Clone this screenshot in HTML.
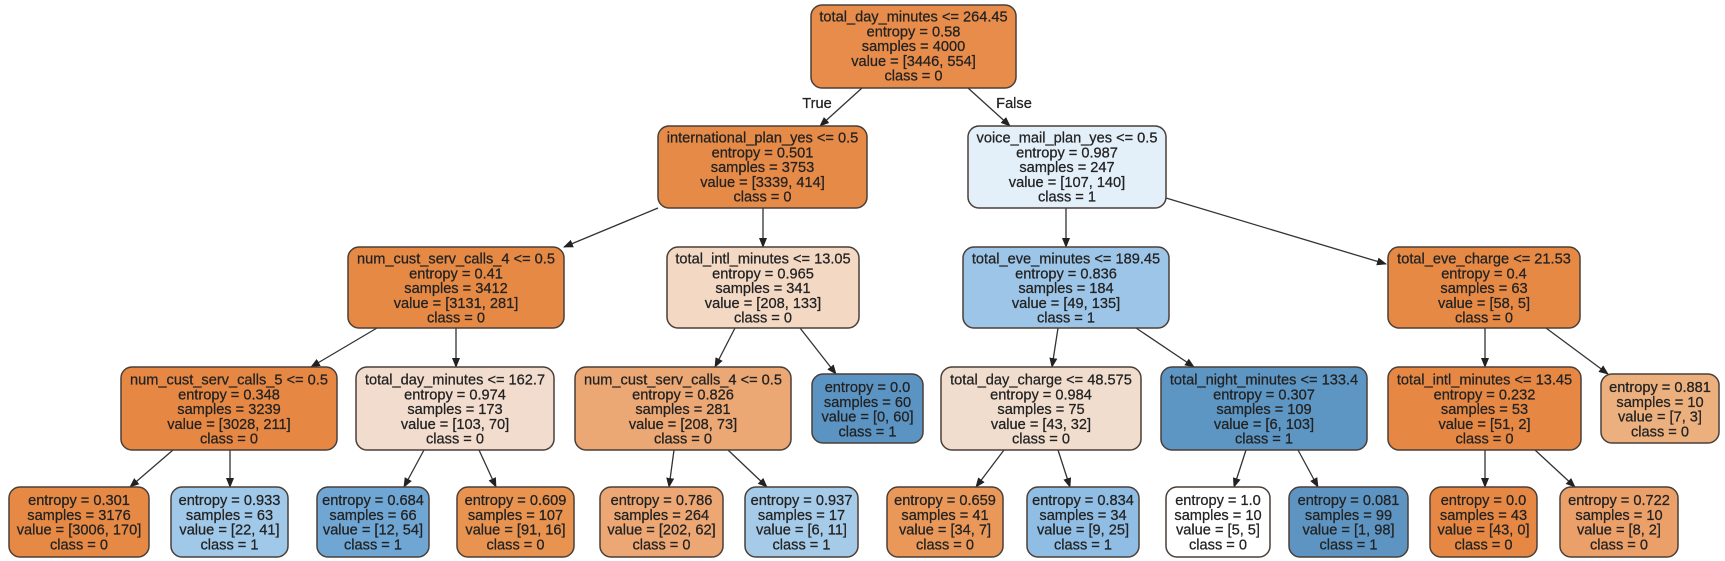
<!DOCTYPE html>
<html><head><meta charset="utf-8"><style>
html,body{margin:0;padding:0;background:#fff;}
svg{display:block;}
text{font-family:"Liberation Sans",sans-serif;font-size:14.6px;fill:#222;stroke:#222;stroke-width:0.25;text-anchor:middle;}
rect{stroke:#4a3f38;stroke-width:1.5;}
line{stroke:#333;stroke-width:1.3;}
</style></head><body>
<svg width="1725" height="561" viewBox="0 0 1725 561" xmlns="http://www.w3.org/2000/svg">
<defs><marker id="a" markerWidth="10" markerHeight="10" refX="9" refY="5" orient="auto" markerUnits="userSpaceOnUse"><path d="M0,1 L10,5 L0,9 z" fill="#222"/></marker></defs>
<g marker-end="url(#a)">
<line x1="862" y1="88" x2="820" y2="126"/>
<line x1="968" y1="88" x2="1010" y2="126"/>
<line x1="658" y1="208" x2="564" y2="247"/>
<line x1="763" y1="208" x2="763" y2="247"/>
<line x1="1066" y1="208" x2="1066" y2="247"/>
<line x1="1166" y1="198" x2="1386" y2="264"/>
<line x1="377" y1="328" x2="311" y2="367"/>
<line x1="456" y1="328" x2="456" y2="367"/>
<line x1="735" y1="328" x2="715" y2="367"/>
<line x1="800" y1="328" x2="836" y2="374"/>
<line x1="1058" y1="328" x2="1052" y2="367"/>
<line x1="1136" y1="328" x2="1194" y2="367"/>
<line x1="1485" y1="328" x2="1485" y2="367"/>
<line x1="1546" y1="328" x2="1608" y2="374"/>
<line x1="173" y1="450" x2="130" y2="487"/>
<line x1="230" y1="450" x2="230" y2="487"/>
<line x1="424" y1="450" x2="404" y2="487"/>
<line x1="479" y1="450" x2="496" y2="487"/>
<line x1="674" y1="450" x2="669" y2="487"/>
<line x1="728" y1="450" x2="767" y2="487"/>
<line x1="1004" y1="450" x2="976" y2="487"/>
<line x1="1058" y1="450" x2="1070" y2="487"/>
<line x1="1246" y1="450" x2="1234" y2="487"/>
<line x1="1298" y1="450" x2="1318" y2="487"/>
<line x1="1485" y1="450" x2="1485" y2="487"/>
<line x1="1535" y1="450" x2="1575" y2="487"/>
</g>
<text x="817" y="108">True</text>
<text x="1014" y="108">False</text>

<rect x="811" y="5" width="205" height="83" rx="11" fill="#e78c4a"/>
<text x="913.5" y="21.5">total_day_minutes &lt;= 264.45</text><text x="913.5" y="36.3">entropy = 0.58</text><text x="913.5" y="51.1">samples = 4000</text><text x="913.5" y="65.9">value = [3446, 554]</text><text x="913.5" y="80.7">class = 0</text>

<rect x="658" y="126" width="209" height="82" rx="11" fill="#e68a47"/>
<text x="762.5" y="142.5">international_plan_yes &lt;= 0.5</text><text x="762.5" y="157.3">entropy = 0.501</text><text x="762.5" y="172.1">samples = 3753</text><text x="762.5" y="186.9">value = [3339, 414]</text><text x="762.5" y="201.7">class = 0</text>
<rect x="968" y="126" width="198" height="82" rx="11" fill="#e3eff9"/>
<text x="1067" y="142.5">voice_mail_plan_yes &lt;= 0.5</text><text x="1067" y="157.3">entropy = 0.987</text><text x="1067" y="172.1">samples = 247</text><text x="1067" y="186.9">value = [107, 140]</text><text x="1067" y="201.7">class = 1</text>

<rect x="348" y="247" width="216" height="81" rx="11" fill="#e68945"/>
<text x="456" y="263.5">num_cust_serv_calls_4 &lt;= 0.5</text><text x="456" y="278.3">entropy = 0.41</text><text x="456" y="293.1">samples = 3412</text><text x="456" y="307.9">value = [3131, 281]</text><text x="456" y="322.7">class = 0</text>
<rect x="667" y="247" width="192" height="81" rx="11" fill="#f3d8c4"/>
<text x="763" y="263.5">total_intl_minutes &lt;= 13.05</text><text x="763" y="278.3">entropy = 0.965</text><text x="763" y="293.1">samples = 341</text><text x="763" y="307.9">value = [208, 133]</text><text x="763" y="322.7">class = 0</text>
<rect x="963" y="247" width="206" height="81" rx="11" fill="#9cc5e7"/>
<text x="1066" y="263.5">total_eve_minutes &lt;= 189.45</text><text x="1066" y="278.3">entropy = 0.836</text><text x="1066" y="293.1">samples = 184</text><text x="1066" y="307.9">value = [49, 135]</text><text x="1066" y="322.7">class = 1</text>
<rect x="1388" y="247" width="192" height="81" rx="11" fill="#e68945"/>
<text x="1484" y="263.5">total_eve_charge &lt;= 21.53</text><text x="1484" y="278.3">entropy = 0.4</text><text x="1484" y="293.1">samples = 63</text><text x="1484" y="307.9">value = [58, 5]</text><text x="1484" y="322.7">class = 0</text>

<rect x="121" y="367" width="216" height="83" rx="11" fill="#e68844"/>
<text x="229" y="384.5">num_cust_serv_calls_5 &lt;= 0.5</text><text x="229" y="399.3">entropy = 0.348</text><text x="229" y="414.1">samples = 3239</text><text x="229" y="428.9">value = [3028, 211]</text><text x="229" y="443.7">class = 0</text>
<rect x="356" y="367" width="198" height="83" rx="11" fill="#f1dccd"/>
<text x="455" y="384.5">total_day_minutes &lt;= 162.7</text><text x="455" y="399.3">entropy = 0.974</text><text x="455" y="414.1">samples = 173</text><text x="455" y="428.9">value = [103, 70]</text><text x="455" y="443.7">class = 0</text>
<rect x="575" y="367" width="216" height="83" rx="11" fill="#eba774"/>
<text x="683" y="384.5">num_cust_serv_calls_4 &lt;= 0.5</text><text x="683" y="399.3">entropy = 0.826</text><text x="683" y="414.1">samples = 281</text><text x="683" y="428.9">value = [208, 73]</text><text x="683" y="443.7">class = 0</text>
<rect x="812" y="374" width="111" height="69" rx="11" fill="#5b93c2"/>
<text x="867.5" y="392">entropy = 0.0</text><text x="867.5" y="406.8">samples = 60</text><text x="867.5" y="421.6">value = [0, 60]</text><text x="867.5" y="436.4">class = 1</text>
<rect x="941" y="367" width="200" height="83" rx="11" fill="#f0ddcd"/>
<text x="1041" y="384.5">total_day_charge &lt;= 48.575</text><text x="1041" y="399.3">entropy = 0.984</text><text x="1041" y="414.1">samples = 75</text><text x="1041" y="428.9">value = [43, 32]</text><text x="1041" y="443.7">class = 0</text>
<rect x="1161" y="367" width="206" height="83" rx="11" fill="#5d95c3"/>
<text x="1264" y="384.5">total_night_minutes &lt;= 133.4</text><text x="1264" y="399.3">entropy = 0.307</text><text x="1264" y="414.1">samples = 109</text><text x="1264" y="428.9">value = [6, 103]</text><text x="1264" y="443.7">class = 1</text>
<rect x="1388" y="367" width="193" height="83" rx="11" fill="#e68844"/>
<text x="1484.5" y="384.5">total_intl_minutes &lt;= 13.45</text><text x="1484.5" y="399.3">entropy = 0.232</text><text x="1484.5" y="414.1">samples = 53</text><text x="1484.5" y="428.9">value = [51, 2]</text><text x="1484.5" y="443.7">class = 0</text>
<rect x="1601" y="374" width="118" height="69" rx="11" fill="#ecb07f"/>
<text x="1660" y="392">entropy = 0.881</text><text x="1660" y="406.8">samples = 10</text><text x="1660" y="421.6">value = [7, 3]</text><text x="1660" y="436.4">class = 0</text>

<rect x="9" y="487" width="140" height="70" rx="11" fill="#e68945"/>
<text x="79" y="505">entropy = 0.301</text><text x="79" y="519.8">samples = 3176</text><text x="79" y="534.6">value = [3006, 170]</text><text x="79" y="549.4">class = 0</text>
<rect x="171" y="487" width="117" height="70" rx="11" fill="#a0c8e8"/>
<text x="229.5" y="505">entropy = 0.933</text><text x="229.5" y="519.8">samples = 63</text><text x="229.5" y="534.6">value = [22, 41]</text><text x="229.5" y="549.4">class = 1</text>
<rect x="317" y="487" width="112" height="70" rx="11" fill="#6fa6d4"/>
<text x="373" y="505">entropy = 0.684</text><text x="373" y="519.8">samples = 66</text><text x="373" y="534.6">value = [12, 54]</text><text x="373" y="549.4">class = 1</text>
<rect x="457" y="487" width="117" height="70" rx="11" fill="#e8934f"/>
<text x="515.5" y="505">entropy = 0.609</text><text x="515.5" y="519.8">samples = 107</text><text x="515.5" y="534.6">value = [91, 16]</text><text x="515.5" y="549.4">class = 0</text>
<rect x="600" y="487" width="123" height="70" rx="11" fill="#eca774"/>
<text x="661.5" y="505">entropy = 0.786</text><text x="661.5" y="519.8">samples = 264</text><text x="661.5" y="534.6">value = [202, 62]</text><text x="661.5" y="549.4">class = 0</text>
<rect x="745" y="487" width="113" height="70" rx="11" fill="#a6cbe9"/>
<text x="801.5" y="505">entropy = 0.937</text><text x="801.5" y="519.8">samples = 17</text><text x="801.5" y="534.6">value = [6, 11]</text><text x="801.5" y="549.4">class = 1</text>
<rect x="887" y="487" width="116" height="70" rx="11" fill="#e9985a"/>
<text x="945" y="505">entropy = 0.659</text><text x="945" y="519.8">samples = 41</text><text x="945" y="534.6">value = [34, 7]</text><text x="945" y="549.4">class = 0</text>
<rect x="1027" y="487" width="112" height="70" rx="11" fill="#90bde3"/>
<text x="1083" y="505">entropy = 0.834</text><text x="1083" y="519.8">samples = 34</text><text x="1083" y="534.6">value = [9, 25]</text><text x="1083" y="549.4">class = 1</text>
<rect x="1166" y="487" width="104" height="70" rx="11" fill="#ffffff"/>
<text x="1218" y="505">entropy = 1.0</text><text x="1218" y="519.8">samples = 10</text><text x="1218" y="534.6">value = [5, 5]</text><text x="1218" y="549.4">class = 0</text>
<rect x="1289" y="487" width="119" height="70" rx="11" fill="#5d94c2"/>
<text x="1348.5" y="505">entropy = 0.081</text><text x="1348.5" y="519.8">samples = 99</text><text x="1348.5" y="534.6">value = [1, 98]</text><text x="1348.5" y="549.4">class = 1</text>
<rect x="1430" y="487" width="107" height="70" rx="11" fill="#e68844"/>
<text x="1483.5" y="505">entropy = 0.0</text><text x="1483.5" y="519.8">samples = 43</text><text x="1483.5" y="534.6">value = [43, 0]</text><text x="1483.5" y="549.4">class = 0</text>
<rect x="1560" y="487" width="118" height="70" rx="11" fill="#eba06a"/>
<text x="1619" y="505">entropy = 0.722</text><text x="1619" y="519.8">samples = 10</text><text x="1619" y="534.6">value = [8, 2]</text><text x="1619" y="549.4">class = 0</text>
</svg>
</body></html>
